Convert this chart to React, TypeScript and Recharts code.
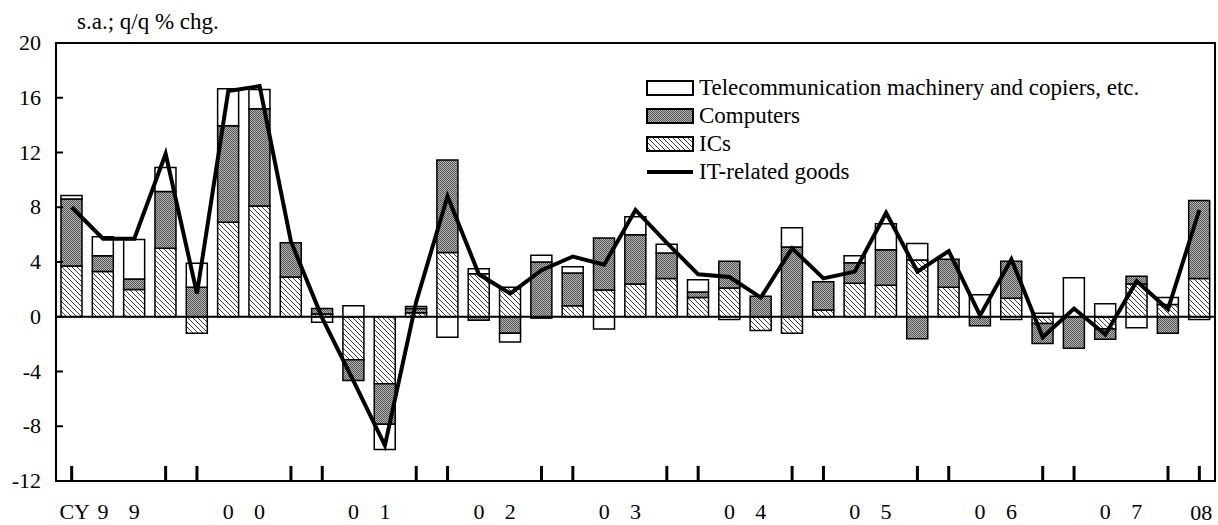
import { ComposedChart, Bar, Line, XAxis, YAxis, ReferenceLine, Legend } from "recharts";

// quarterly, CY1999Q1 .. CY2008Q1
const quarters = [
  "1999Q1", "1999Q2", "1999Q3", "1999Q4",
  "2000Q1", "2000Q2", "2000Q3", "2000Q4",
  "2001Q1", "2001Q2", "2001Q3", "2001Q4",
  "2002Q1", "2002Q2", "2002Q3", "2002Q4",
  "2003Q1", "2003Q2", "2003Q3", "2003Q4",
  "2004Q1", "2004Q2", "2004Q3", "2004Q4",
  "2005Q1", "2005Q2", "2005Q3", "2005Q4",
  "2006Q1", "2006Q2", "2006Q3", "2006Q4",
  "2007Q1", "2007Q2", "2007Q3", "2007Q4",
  "2008Q1",
];

// spaced-out year labels as in the original
const xLabels = [
  "CY", "9", "9", "",
  "", "0", "0", "",
  "", "0", "1", "",
  "", "0", "2", "",
  "", "0", "3", "",
  "", "0", "4", "",
  "", "0", "5", "",
  "", "0", "6", "",
  "", "0", "7", "",
  "08",
];

const ics = [
  3.7, 3.3, 2.0, 5.0, -1.2, 6.9, 8.1, 2.9, 0.2, -3.15, -4.9, 0.3, 4.7, 3.15, 2.15, -0.1,
  0.8, 1.95, 2.4, 2.8, 1.4, 2.1, -1.0, -1.2, 0.5, 2.45, 2.3, 4.15, 2.15, 0, 1.35, -0.5,
  0, -0.9, 2.4, 0.9, 2.8,
];
const computers = [
  4.9, 1.15, 0.75, 4.15, 2.15, 7.05, 7.1, 2.5, 0.4, -1.5, -2.95, 0.3, 6.75, -0.25, -1.2, 4.0,
  2.4, 3.8, 3.6, 1.85, 0.4, 1.95, 1.5, 5.1, 2.05, 1.5, 2.6, -1.6, 2.05, -0.65, 2.7, -1.45,
  -2.3, -0.75, 0.55, -1.2, 5.7,
];
const telecom = [
  0.25, 1.4, 2.9, 1.75, 1.75, 2.7, 1.4, 0, -0.4, 0.8, -1.85, 0.15, -1.5, 0.35, -0.65, 0.5,
  0.45, -0.9, 1.3, 0.65, 0.9, -0.2, 0, 1.4, 0, 0.5, 1.9, 1.2, 0, 1.6, -0.2, 0.25,
  2.85, 0.95, -0.8, 0.5, -0.2,
];
const itGoods = [
  8.0, 5.7, 5.7, 11.9, 1.7, 16.5, 16.85, 5.5, -0.1, -4.7, -9.4, 1.1, 8.8, 3.1, 1.7, 3.4,
  4.4, 3.8, 7.8, 5.4, 3.1, 2.9, 1.4, 5.0, 2.8, 3.3, 7.6, 3.3, 4.8, 0.1, 4.2, -1.5,
  0.6, -1.3, 2.6, 0.55, 7.8,
];

const yTicks = [-12, -8, -4, 0, 4, 8, 12, 16, 20];

const data = quarters.map((q, i) => ({
  q,
  ics: ics[i],
  computers: computers[i],
  telecom: telecom[i],
  it: itGoods[i],
}));

// small marks on the bottom axis at Q1 and Q4
const markedQuarters = quarters.filter((q) => q.endsWith("Q1") || q.endsWith("Q4"));

const W = 1218;
const H = 525;
const PLOT_LEFT = 56;
const FONT = "'Liberation Serif', 'Times New Roman', serif";

const XTick = (props: any) => {
  const { x, payload } = props;
  const i = quarters.indexOf(payload.value);
  const label = xLabels[i];
  if (!label) return null;
  const last = i === quarters.length - 1;
  return (
    <text x={x + (last ? 2 : label === "CY" ? 3 : 0)} y={last ? 520 : 519} textAnchor="middle"
      fontSize={22} fontFamily={FONT} fill="#000">
      {label}
    </text>
  );
};

const YTick = (props: any) => {
  const { y, payload } = props;
  return (
    <g>
      <line x1={PLOT_LEFT} x2={PLOT_LEFT + 7} y1={y} y2={y} stroke="#000" strokeWidth={2} />
      <text x={PLOT_LEFT - 15} y={y} dy={7} textAnchor="end" fontSize={22} fontFamily={FONT} fill="#000">
        {payload.value}
      </text>
    </g>
  );
};

const legendItems = [
  { name: "Telecommunication machinery and copiers, etc.", fill: "#fff" },
  { name: "Computers", fill: "url(#dotComp)" },
  { name: "ICs", fill: "url(#hatchIC)" },
  { name: "IT-related goods", line: true },
];

const LegendBox = () => (
  <div style={{ fontFamily: FONT, fontSize: 23, color: "#000" }}>
    {legendItems.map((it) => (
      <div key={it.name} style={{ display: "flex", alignItems: "center", height: 28 }}>
        <svg width={48} height={16} style={{ marginRight: 5, flex: "none" }}>
          {it.line ? (
            <line x1={1} x2={47} y1={8} y2={8} stroke="#000" strokeWidth={4} />
          ) : (
            <rect x={1} y={1} width={46} height={14} fill={it.fill} stroke="#000" strokeWidth={2} />
          )}
        </svg>
        <span style={{ whiteSpace: "nowrap" }}>{it.name}</span>
      </div>
    ))}
  </div>
);

export default function App() {
  return (
    <div style={{ position: "absolute", left: 0, top: 0, width: W, height: H, background: "#fff" }}>
      <div style={{ position: "absolute", left: 77, top: 9, fontFamily: FONT, fontSize: 23, whiteSpace: "nowrap" }}>
        s.a.; q/q % chg.
      </div>
      <ComposedChart width={W} height={H} data={data} stackOffset="sign"
        margin={{ top: 43, right: 3, bottom: 0, left: 0 }}>
        <defs>
          <pattern id="hatchIC" patternUnits="userSpaceOnUse" width="5" height="5">
            <rect width="5" height="5" fill="#fff" />
            <path d="M-1,-1 L6,6 M-1,4 L1,6 M4,-1 L6,1" stroke="#3a3a3a" strokeWidth="1" />
          </pattern>
          <pattern id="dotComp" patternUnits="userSpaceOnUse" width="2" height="2">
            <rect width="2" height="2" fill="#b4b4b4" />
            <rect x="0" y="0" width="1" height="1" fill="#555" />
            <rect x="1" y="1" width="1" height="1" fill="#555" />
          </pattern>
        </defs>
        <XAxis dataKey="q" interval={0} height={44} tickLine={false} tick={<XTick />}
          axisLine={{ stroke: "#000", strokeWidth: 2 }} />
        <YAxis domain={[-12, 20]} ticks={yTicks} width={56} tickLine={false} tick={<YTick />}
          axisLine={{ stroke: "#000", strokeWidth: 2 }} />
        <Bar dataKey="ics" name="ICs" stackId="a" barSize={21} fill="url(#hatchIC)"
          stroke="#000" strokeWidth={1.5} isAnimationActive={false} />
        <Bar dataKey="computers" name="Computers" stackId="a" barSize={21} fill="url(#dotComp)"
          stroke="#000" strokeWidth={1.5} isAnimationActive={false} />
        <Bar dataKey="telecom" name="Telecommunication machinery and copiers, etc." stackId="a"
          barSize={21} fill="#fff" stroke="#000" strokeWidth={1.5} isAnimationActive={false} />
        <ReferenceLine y={0} stroke="#000" strokeWidth={2} />
        {markedQuarters.map((q) => (
          <ReferenceLine key={q} segment={[{ x: q, y: -12 }, { x: q, y: -10.9 }]}
            stroke="#000" strokeWidth={3} />
        ))}
        <Line dataKey="it" name="IT-related goods" type="linear" stroke="#000" strokeWidth={4}
          dot={false} activeDot={false} isAnimationActive={false} />
        <Legend layout="vertical" align="center" verticalAlign="middle" content={() => <LegendBox />}
          wrapperStyle={{ left: 646, top: 74, width: 560, height: 112 }} />
      </ComposedChart>
      {/* plot frame */}
      <div style={{ position: "absolute", left: 55, top: 42, width: 1161, height: 440,
        border: "2px solid #000", boxSizing: "border-box", pointerEvents: "none" }} />
    </div>
  );
}
